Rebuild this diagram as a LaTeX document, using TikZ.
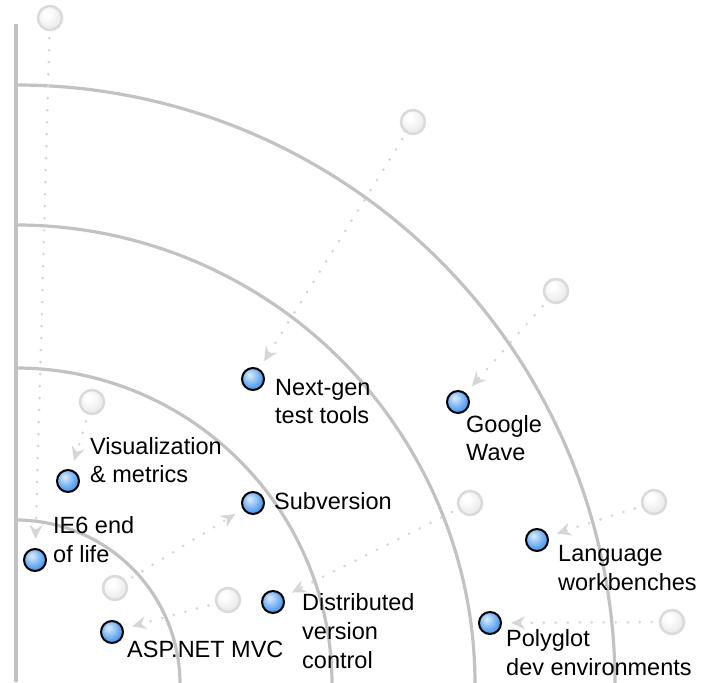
\documentclass[tikz,border=0pt]{standalone}
\usepackage{fontspec}
\setmainfont{Liberation Sans}
\usetikzlibrary{arrows.meta}

\definecolor{ringgray}{RGB}{194,194,194}
\definecolor{dotgray}{RGB}{214,214,214}
\definecolor{oldrim}{RGB}{218,218,218}
\definecolor{blipblue}{RGB}{40,135,235}

\pgfdeclareradialshading{blipshade}{\pgfpoint{-8bp}{10bp}}{%
  color(0bp)=(blipblue!15!white); color(5bp)=(blipblue!28!white);
  color(22bp)=(blipblue!72!white); color(36bp)=(blipblue); color(60bp)=(blipblue)}
\pgfdeclareradialshading{oldshade}{\pgfpoint{-8bp}{10bp}}{%
  color(0bp)=(white); color(6bp)=(white);
  color(30bp)=(black!9); color(45bp)=(black!13); color(60bp)=(black!13)}

\tikzset{
  ring/.style={draw=ringgray, line width=3.2pt},
  blip/.style={circle, draw=black, line width=2pt, shading=blipshade,
    minimum size=22pt, inner sep=0pt},
  oldblip/.style={circle, draw=oldrim, line width=2.5pt, shading=oldshade,
    minimum size=24pt, inner sep=0pt},
  lbl/.style={anchor=base west, inner sep=0pt, align=left,
    font=\fontsize{23.5}{28.7}\selectfont},
  move/.style={draw=dotgray, line width=3pt, dash pattern=on 0pt off 12pt,
    line cap=round, -{Stealth[length=14pt, width=13pt, fill=dotgray]},
    shorten <=7pt, shorten >=9pt}
}

\begin{document}
\begin{tikzpicture}[x=1pt, y=1pt]
  \useasboundingbox (0,0) rectangle (708,682);
  % rings
  \begin{scope}
    \clip (0,0) rectangle (708,682);
    \foreach \r in {164,316,459,599}
      \draw[ring] (16,{\r-2}) arc[start angle=90, end angle=-5, radius=\r pt];
  \end{scope}
  % vertical axis
  \draw[ring] (16,0) -- (16,658);
  % old positions
  \node[oldblip] (ie60) at (50,664) {};
  \node[oldblip] (nextgen0) at (413,560) {};
  \node[oldblip] (wave0) at (556,391) {};
  \node[oldblip] (vis0) at (92,280) {};
  \node[oldblip] (svn0) at (115,94) {};
  \node[oldblip] (asp0) at (228,82) {};
  \node[oldblip] (dvcs0) at (470,179) {};
  \node[oldblip] (lang0) at (654,180) {};
  \node[oldblip] (poly0) at (672,60) {};
  % blips
  \node[blip] (nextgen) at (253,303) {};
  \node[blip] (wave) at (458,280) {};
  \node[blip] (vis) at (68,201) {};
  \node[blip] (svn) at (253,179) {};
  \node[blip] (ie6) at (35,122) {};
  \node[blip] (lang) at (537,142) {};
  \node[blip] (dvcs) at (273,80) {};
  \node[blip] (asp) at (112,50) {};
  \node[blip] (poly) at (490,59) {};
  % moves
  \draw[move] (ie60) -- (ie6);
  \draw[move] (nextgen0) -- (nextgen);
  \draw[move] (wave0) -- (wave);
  \draw[move] (vis0) -- (vis);
  \draw[move] (svn0) -- (svn);
  \draw[move] (asp0) -- (asp);
  \draw[move] (dvcs0) -- (dvcs);
  \draw[move] (lang0) -- (lang);
  \draw[move] (poly0) -- (poly);
  % labels (base = last line)
  \node[lbl] (nextgenL) at (275,258) {Next-gen\\test tools};
  \node[lbl] (waveL) at (466,221) {Google\\Wave};
  \node[lbl] (visL) at (90,199) {Visualization\\\& metrics};
  \node[lbl] (svnL) at (274,172) {Subversion};
  \node[lbl] (ie6L) at (53,120) {IE6 end\\of life};
  \node[lbl] (langL) at (558,92) {Language\\workbenches};
  \node[lbl] (dvcsL) at (302,14) {Distributed\\version\\control};
  \node[lbl] (aspL) at (127,25) {ASP.NET MVC};
  \node[lbl] (polyL) at (506,7) {Polyglot\\dev environments};
\end{tikzpicture}
\end{document}
